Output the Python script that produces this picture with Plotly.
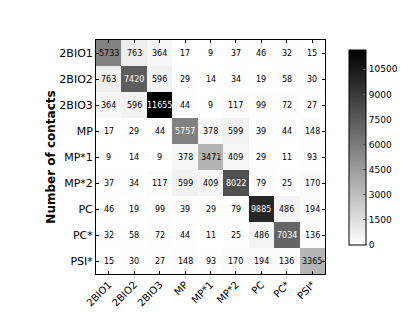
import plotly.graph_objects as go

labels = ["2BIO1", "2BIO2", "2BIO3", "MP", "MP*1", "MP*2", "PC", "PC*", "PSI*"]
values = [
    [5733, 763, 364, 17, 9, 37, 46, 32, 15],
    [763, 7420, 596, 29, 14, 34, 19, 58, 30],
    [364, 596, 11655, 44, 9, 117, 99, 72, 27],
    [17, 29, 44, 5757, 378, 599, 39, 44, 148],
    [9, 14, 9, 378, 3471, 409, 29, 11, 93],
    [37, 34, 117, 599, 409, 8022, 79, 25, 170],
    [46, 19, 99, 39, 29, 79, 9885, 486, 194],
    [32, 58, 72, 44, 11, 25, 486, 7034, 136],
    [15, 30, 27, 148, 93, 170, 194, 136, 3365],
]
cbar_ticks = [0, 1500, 3000, 4500, 6000, 7500, 9000, 10500]
zmax = 11655

fig = go.Figure()
fig.add_trace(go.Heatmap(
    z=values, x=labels, y=labels,
    colorscale=[[0, "rgb(255,255,255)"], [1, "rgb(0,0,0)"]],
    zmin=0, zmax=zmax, xgap=0, ygap=0,
    colorbar=dict(
        x=1.06, xanchor="left", y=1.0, yanchor="top", len=0.92, lenmode="fraction",
        thickness=17, outlinecolor="black", outlinewidth=1,
        tickvals=cbar_ticks, ticktext=[str(t) for t in cbar_ticks],
        ticks="inside", ticklen=3, tickcolor="#555",
        tickfont=dict(family="DejaVu Sans", size=9, color="black"),
    ),
    hoverinfo="skip",
))

annotations = []
for i, row in enumerate(values):
    for j, v in enumerate(row):
        annotations.append(dict(
            x=labels[j], y=labels[i], text=str(v), showarrow=False,
            font=dict(family="DejaVu Sans", size=8,
                      color="white" if v > 5740 else "black"),
        ))

fig.update_layout(
    width=415, height=312,
    margin=dict(l=88, r=78, t=32, b=43),
    paper_bgcolor="white", plot_bgcolor="white",
    annotations=annotations,
    xaxis=dict(
        tickangle=-45, tickfont=dict(family="DejaVu Sans", size=10, color="black"),
        showline=True, linecolor="black", linewidth=1, mirror="ticks",
        ticks="inside", ticklen=3, tickcolor="black", showgrid=False, zeroline=False,
    ),
    yaxis=dict(
        autorange="reversed",
        tickfont=dict(family="DejaVu Sans", size=11, color="black"),
        showline=True, linecolor="black", linewidth=1, mirror="ticks",
        ticks="inside", ticklen=3, tickcolor="black", showgrid=False, zeroline=False,
        title=dict(text="<b>Number of contacts</b>", standoff=1,
                   font=dict(family="DejaVu Sans", size=12, color="black")),
    ),
)

fig.write_html("out.html")
